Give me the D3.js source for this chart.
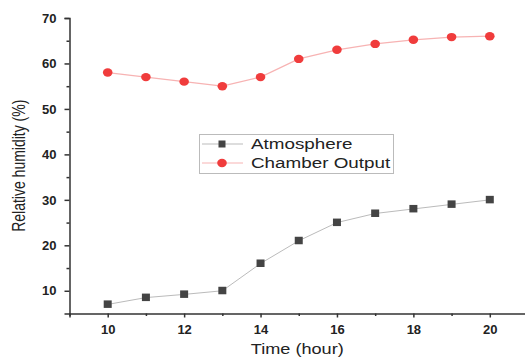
<!DOCTYPE html>
<html><head><meta charset="utf-8">
<script src="https://cdn.jsdelivr.net/npm/d3@7"></script>
<style>body{margin:0;background:#fff}svg{display:block}</style>
</head><body>
<svg id="c" width="525" height="363"></svg>
<script>
const hours = [10, 11, 12, 13, 14, 15, 16, 17, 18, 19, 20];
const atmosphere = [7, 8.5, 9.2, 10, 16, 21, 25, 27, 28, 29, 30];
const chamber = [58, 57, 56, 55, 57, 61, 63, 64.3, 65.2, 65.8, 66];
const xTicks = [10, 12, 14, 16, 18, 20];
const yTicks = [10, 20, 30, 40, 50, 60, 70];
const seriesNames = ["Atmosphere", "Chamber Output"];

const svg = d3.select("#c");
const x = d3.scaleLinear().domain([9, 21]).range([69.5, 528]);
const y = d3.scaleLinear().domain([5, 70]).range([313.5, 18]);
const font = "'Liberation Sans', Arial, sans-serif";
const SX = 1.25; // horizontal stretch of the reference text

// axes
svg.append("g").attr("transform", `translate(0,${y(5)})`)
  .call(d3.axisBottom(x).tickValues(xTicks).tickFormat(d3.format("d")).tickSizeOuter(0).tickSize(4).tickPadding(7));
svg.append("g").attr("transform", `translate(0,${y(5)})`)
  .call(d3.axisBottom(x).tickValues([9,11,13,15,17,19,21]).tickFormat("").tickSizeOuter(0).tickSize(2.5))
  .select(".domain").remove();
svg.append("g").attr("transform", `translate(${x(9)},0)`)
  .call(d3.axisLeft(y).tickValues(yTicks).tickFormat(d3.format("d")).tickSizeOuter(0).tickSize(5).tickPadding(8));
svg.append("g").attr("transform", `translate(${x(9)},0)`)
  .call(d3.axisLeft(y).tickValues([15,25,35,45,55,65]).tickFormat("").tickSizeOuter(0).tickSize(3))
  .select(".domain").remove();
svg.selectAll(".domain, .tick line").attr("stroke", "#333").attr("stroke-width", 1.5);
svg.selectAll(".tick text").attr("font-family", font).attr("font-weight", "bold")
  .attr("font-size", 13).attr("fill", "#222");

// axis titles
svg.append("text").attr("transform", `translate(${(x(9) + 525) / 2},354) scale(${SX},1)`)
  .attr("text-anchor", "middle")
  .attr("font-family", font).attr("font-size", 14.5).attr("fill", "#222").text("Time (hour)");
svg.append("text").attr("transform", `translate(25,${(y(5) + y(70)) / 2}) scale(${SX},1) rotate(-90)`)
  .attr("text-anchor", "middle").attr("font-family", font).attr("font-size", 14).attr("fill", "#222")
  .text("Relative humidity (%)");

const line = d3.line().x((d, i) => x(hours[i])).y(d => y(d));
svg.append("path").datum(atmosphere).attr("d", line).attr("fill", "none").attr("stroke", "#bbbbbb").attr("stroke-width", 1);
svg.append("path").datum(chamber).attr("d", line).attr("fill", "none").attr("stroke", "#f7b3b3").attr("stroke-width", 1.2);

svg.selectAll(".sq").data(atmosphere).enter().append("rect")
  .attr("x", (d, i) => x(hours[i]) - 4).attr("y", d => y(d) - 4)
  .attr("width", 8).attr("height", 7.5).attr("fill", "#444");
svg.selectAll(".ci").data(chamber).enter().append("ellipse")
  .attr("cx", (d, i) => x(hours[i])).attr("cy", d => y(d))
  .attr("rx", 4.8).attr("ry", 4.2).attr("fill", "#f03c3c");

// legend
const lg = svg.append("g");
lg.append("rect").attr("x", 199.5).attr("y", 134.5).attr("width", 194).attr("height", 39)
  .attr("fill", "#fff").attr("stroke", "#bbb").attr("stroke-width", 1);
const legendRows = [
  {name: seriesNames[0], y: 144, color: "#bbbbbb", marker: "sq"},
  {name: seriesNames[1], y: 163, color: "#f7b3b3", marker: "ci"}
];
legendRows.forEach(r => {
  lg.append("line").attr("x1", 202).attr("x2", 243).attr("y1", r.y).attr("y2", r.y).attr("stroke", r.color);
  if (r.marker === "sq") lg.append("rect").attr("x", 218.5).attr("y", r.y - 3.5).attr("width", 7).attr("height", 7).attr("fill", "#444");
  else lg.append("ellipse").attr("cx", 222).attr("cy", r.y).attr("rx", 4.8).attr("ry", 4.2).attr("fill", "#f03c3c");
  lg.append("text").attr("transform", `translate(251,${r.y + 5}) scale(1.3,1)`)
    .attr("font-family", font).attr("font-size", 14.5)
    .attr("fill", "#222").text(r.name);
});
</script>
</body></html>
